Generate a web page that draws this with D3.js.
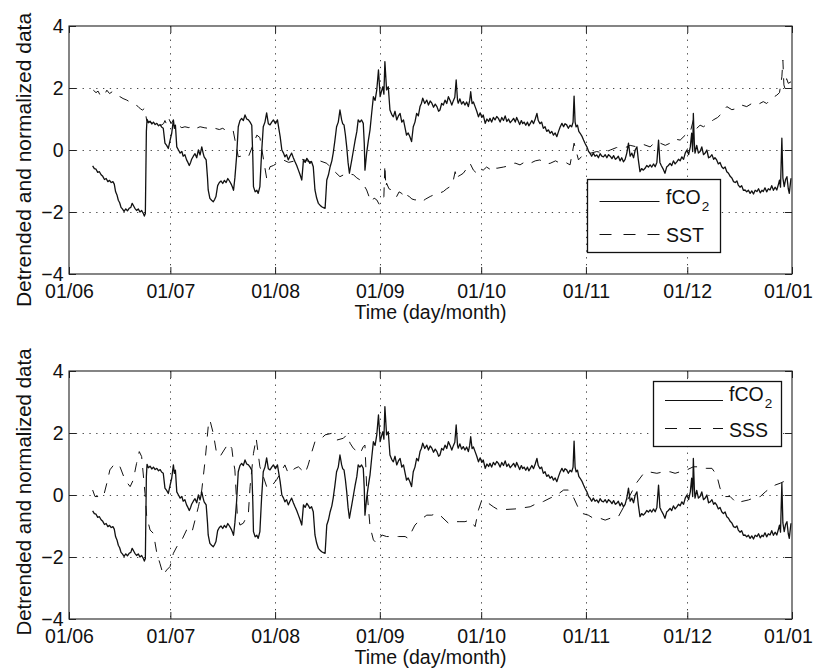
<!DOCTYPE html>
<html><head><meta charset="utf-8">
<script src="https://cdn.jsdelivr.net/npm/d3@7"></script>
<style>
body{margin:0;background:#fff}
svg{display:block}
text{font-family:"Liberation Sans",Arial,Helvetica,sans-serif;fill:#111}
</style></head><body>
<svg id="c" width="814" height="671"></svg>
<script>
// ---- data (day = days since 1 June) ----
const xTickLabels = ["01/06","01/07","01/08","01/09","01/10","01/11","01/12","01/01"];
const yTicks = [-4,-2,0,2,4];
const yLabel = "Detrended and normalized data";
const xLabel = "Time (day/month)";

const fco2 = [[7.0,-0.51],[7.5,-0.6],[8.0,-0.62],[8.5,-0.72],[9.0,-0.7],[9.5,-0.8],[10.0,-0.85],[10.5,-0.95],[11.0,-0.92],[11.5,-1.02],[12.0,-0.98],[12.5,-1.05],[13.0,-1.02],[13.4,-1.1],[13.8,-1.35],[14.2,-1.45],[14.6,-1.62],[15.0,-1.7],[15.4,-1.85],[15.8,-1.9],[16.3,-1.98],[16.8,-1.9],[17.3,-1.96],[17.8,-1.88],[18.3,-1.85],[18.7,-1.72],[19.1,-1.8],[19.5,-1.88],[20.0,-1.95],[20.5,-1.9],[21.0,-2.0],[21.5,-1.95],[22.0,-2.05],[22.3,-2.13],[22.6,-2.05],[22.9,0.6],[23.1,0.99],[23.5,0.88],[24.0,0.93],[24.5,0.84],[25.0,0.9],[25.5,0.82],[26.0,0.86],[26.5,0.78],[27.0,0.82],[27.4,0.74],[27.9,0.7],[28.4,0.22],[28.9,0.15],[29.4,0.05],[29.9,0.3],[30.4,0.54],[30.9,0.97],[31.2,0.7],[31.5,0.8],[31.9,0.1],[32.4,0.0],[32.9,-0.1],[33.4,-0.05],[33.8,-0.2],[34.3,-0.15],[34.8,-0.32],[35.2,-0.4],[35.6,-0.5],[36.0,-0.4],[36.3,-0.3],[36.8,-0.2],[37.3,-0.12],[37.8,-0.25],[38.3,0],[38.8,-0.16],[39.3,0.1],[39.7,-0.1],[40.0,-0.22],[40.6,-0.32],[41.0,-0.9],[41.2,-1.29],[41.7,-1.56],[42.2,-1.62],[42.7,-1.67],[43.1,-1.6],[43.5,-1.5],[44.0,-1.15],[44.5,-1.05],[45.0,-1.0],[45.5,-1.08],[46.0,-0.98],[46.5,-1.05],[47.0,-0.92],[47.5,-1.0],[48.0,-1.1],[48.4,-1.2],[48.7,-1.3],[49.1,-0.9],[49.6,-0.22],[50.1,0.75],[50.6,0.95],[51.1,1.02],[51.6,0.95],[52.1,1.13],[52.6,1.0],[53.1,0.97],[53.6,0.9],[54.1,0.8],[54.4,-0.2],[54.6,-1.18],[55.1,-1.35],[55.6,-1.3],[56.0,-1.4],[56.5,-1.18],[57.0,-0.1],[57.5,0.75],[58.0,0.9],[58.5,1.2],[59.0,0.85],[59.5,0.81],[60.0,0.9],[60.5,0.97],[61.1,0.85],[61.7,0.97],[62.1,0.7],[62.5,0.43],[63.0,0],[63.5,-0.1],[63.9,-0.22],[64.4,-0.15],[64.9,-0.32],[65.4,-0.2],[65.9,-0.1],[66.4,-0.25],[66.9,-0.38],[67.4,-0.5],[67.9,-0.65],[68.4,-0.8],[68.9,-0.97],[69.4,-0.32],[69.9,-0.4],[70.4,-0.27],[70.9,-0.35],[71.3,-0.43],[71.8,-0.38],[72.3,-0.54],[72.8,-1.29],[73.3,-1.55],[73.8,-1.72],[74.3,-1.78],[74.8,-1.83],[75.3,-1.86],[75.8,-1.88],[76.3,-0.97],[76.8,-0.8],[77.3,-0.54],[77.8,-0.35],[78.2,-0.1],[78.7,0.3],[79.2,0.75],[79.7,0.9],[80.2,1.29],[80.7,0.97],[81.0,0.85],[81.4,0.81],[81.8,0.5],[82.2,0.1],[82.6,-0.4],[83.0,-0.75],[83.4,-0.5],[83.7,-0.32],[84.2,0.0],[84.7,0.32],[85.2,0.6],[85.6,0.97],[86.1,0.9],[86.6,0.97],[87.1,0.86],[87.4,0.2],[87.6,-0.65],[88.1,-0.1],[88.6,0.3],[89.1,0.65],[89.6,1.2],[90.1,1.72],[90.6,1.6],[91.1,1.94],[91.6,2.58],[92.1,1.72],[92.5,1.9],[92.9,2.04],[93.2,1.8],[93.5,2.85],[94.0,1.94],[94.5,2.04],[95.0,1.29],[95.5,1.15],[96.0,1.07],[96.5,1.25],[97.0,0.97],[97.5,1.1],[98.0,1.18],[98.5,0.9],[99.0,0.97],[99.5,0.7],[99.9,0.48],[100.4,0.55],[100.9,0.43],[101.4,0.27],[101.9,0.75],[102.4,0.9],[102.9,1.18],[103.4,1.1],[103.9,1.4],[104.3,1.5],[104.7,1.67],[105.3,1.5],[105.9,1.61],[106.4,1.45],[106.9,1.58],[107.4,1.51],[107.9,1.38],[108.4,1.48],[108.9,1.4],[109.4,1.25],[109.8,1.29],[110.3,1.5],[110.8,1.45],[111.3,1.61],[111.8,1.5],[112.3,1.72],[112.8,1.6],[113.3,1.45],[113.8,1.6],[114.2,1.7],[114.6,2.26],[115.0,1.6],[115.2,1.51],[115.7,1.65],[116.2,1.48],[116.7,1.56],[117.2,1.45],[117.7,1.55],[118.2,1.4],[118.6,1.6],[118.9,1.88],[119.3,1.5],[119.7,1.55],[120.2,1.4],[120.7,1.25],[121.2,1.07],[121.7,1.2],[122.2,1.05],[122.6,1.13],[123.2,0.86],[123.7,1.0],[124.2,0.92],[124.6,1.02],[125.1,0.9],[125.6,1.05],[126.1,0.97],[126.6,1.08],[127.1,1.02],[127.6,0.9],[128.1,1.05],[128.6,0.95],[129.1,1.1],[129.6,0.92],[130.1,1.0],[130.6,0.88],[131.1,0.95],[131.6,1.02],[132.1,0.9],[132.5,1.05],[132.9,0.95],[133.4,0.82],[133.9,0.95],[134.3,0.85],[134.7,0.9],[135.2,0.8],[135.7,0.9],[136.1,0.78],[136.5,0.85],[137.0,0.95],[137.5,0.85],[138.0,1.0],[138.5,1.18],[138.9,0.95],[139.4,0.85],[139.9,0.9],[140.4,0.7],[140.9,0.75],[141.4,0.6],[141.9,0.65],[142.4,0.54],[142.9,0.6],[143.4,0.48],[143.9,0.55],[144.4,0.43],[144.9,0.6],[145.4,0.75],[145.9,0.86],[146.4,0.75],[146.8,0.85],[147.3,0.81],[147.8,0.7],[148.3,0.8],[148.8,0.75],[149.2,0.9],[149.5,1.74],[149.8,0.9],[150.1,0.75],[150.5,0.8],[150.9,0.6],[151.3,0.54],[151.8,0.45],[152.3,0.32],[152.8,0.2],[153.3,0.1],[153.8,-0.05],[154.2,-0.1],[154.7,-0.2],[155.2,-0.1],[155.7,-0.2],[156.2,-0.16],[156.7,-0.25],[157.2,-0.12],[157.7,-0.2],[158.2,-0.22],[158.7,-0.15],[159.2,-0.25],[159.7,-0.15],[160.2,-0.2],[160.7,-0.28],[161.2,-0.18],[161.7,-0.3],[162.1,-0.27],[162.6,-0.2],[163.1,-0.35],[163.6,-0.25],[164.1,-0.38],[164.6,-0.3],[165.1,-0.1],[165.6,0.22],[166.1,-0.2],[166.6,-0.1],[167.1,-0.25],[167.6,0.0],[168.1,0.1],[168.5,-0.3],[169.0,-0.7],[169.5,-0.6],[170.0,-0.65],[170.5,-0.59],[171.0,-0.5],[171.5,-0.55],[172.0,-0.48],[172.5,-0.55],[173.0,-0.45],[173.5,-0.54],[174.0,-0.4],[174.5,0.32],[174.9,-0.4],[175.3,-0.5],[175.8,-0.6],[176.4,-0.75],[176.9,-0.55],[177.4,-0.5],[177.9,-0.43],[178.4,-0.5],[178.9,-0.35],[179.4,-0.45],[179.9,-0.38],[180.4,-0.3],[180.9,-0.35],[181.4,-0.22],[181.9,-0.3],[182.4,-0.1],[182.9,0],[183.4,-0.15],[183.9,0.1],[184.3,0.54],[184.6,-0.05],[184.8,1.18],[185.1,0.2],[185.3,-0.1],[185.8,0.15],[186.3,-0.1],[186.8,-0.05],[187.3,0.1],[187.8,-0.15],[188.3,-0.1],[188.8,0.0],[189.3,-0.25],[189.8,-0.22],[190.3,-0.15],[190.8,-0.3],[191.2,-0.25],[191.7,-0.32],[192.2,-0.45],[192.7,-0.4],[193.2,-0.54],[193.7,-0.6],[194.2,-0.55],[194.7,-0.7],[195.2,-0.75],[195.7,-0.85],[196.2,-0.9],[196.7,-1.02],[197.2,-1.05],[197.7,-1.0],[198.1,-1.13],[198.6,-1.2],[199.1,-1.15],[199.6,-1.3],[200.1,-1.29],[200.6,-1.35],[201.1,-1.3],[201.6,-1.4],[202.1,-1.32],[202.6,-1.42],[203.1,-1.3],[203.6,-1.34],[204.1,-1.25],[204.6,-1.38],[205.1,-1.3],[205.5,-1.34],[206.0,-1.22],[206.5,-1.35],[207.0,-1.25],[207.5,-1.29],[208.0,-1.15],[208.5,-1.3],[209.0,-1.2],[209.5,-1.29],[210.0,-1.1],[210.3,-0.97],[210.6,-1.2],[211.0,0.38],[211.3,-0.9],[211.7,-1.18],[212.1,-0.95],[212.5,-0.86],[212.9,-1.25],[213.2,-1.4],[213.5,-1.1],[213.7,-0.91]];

const sst = [[7.2,1.93],[8.0,1.85],[8.6,1.9],[9.2,1.77],[10.0,1.85],[10.6,1.8],[11.2,1.93],[12.0,1.82],[12.8,1.88],[13.6,1.83],[14.4,1.75],[15.1,1.72],[16.0,1.66],[17.1,1.61],[18.0,1.55],[19.0,1.51],[19.8,1.45],[20.5,1.4],[21.2,1.32],[21.8,1.29],[22.4,1.35],[23.0,0.95],[24.0,0.9],[25.0,0.85],[26.0,0.82],[27.0,0.78],[28.0,0.85],[28.4,0.95],[29.0,0.8],[29.6,1.0],[30.2,0.85],[30.8,0.95],[31.4,0.8],[32.5,0.78],[33.4,0.72],[34.3,0.75],[35.5,0.72],[36.6,0.78],[37.7,0.7],[38.8,0.75],[40.0,0.72],[41.2,0.7],[42.3,0.74],[43.2,0.7],[44.5,0.66],[45.5,0.7],[46.2,0.65],[47.5,0.6],[48.6,0.62],[50.1,-0.22],[51.6,-0.18],[53.1,-0.22],[55.6,0.48],[56.5,0.4],[58.5,-0.91],[59.5,-0.54],[60.5,-0.5],[61.5,-0.43],[62.5,-0.38],[63.4,-0.32],[65.0,-0.4],[66.9,-0.35],[69.0,-0.3],[71.3,-0.38],[73.5,-0.32],[76.3,-0.43],[78.2,-0.65],[80.2,-0.86],[82.2,-0.75],[84.2,-0.8],[85.2,-0.9],[86.2,-0.97],[87.1,-1.1],[88.1,-1.29],[88.8,-1.5],[89.6,-1.67],[90.3,-1.55],[91.1,-1.61],[91.8,-1.75],[92.6,-1.72],[93.2,-1.5],[93.5,-0.48],[93.8,-1.2],[94.0,-1.07],[94.7,-1.25],[95.5,-1.29],[96.2,-1.45],[97.0,-1.5],[97.7,-1.35],[98.5,-1.4],[99.2,-1.55],[99.9,-1.45],[100.7,-1.5],[101.5,-1.58],[102.4,-1.61],[103.4,-1.6],[104.4,-1.67],[105.6,-1.58],[106.9,-1.5],[107.9,-1.45],[108.9,-1.4],[109.9,-1.38],[110.8,-1.34],[111.8,-1.25],[112.8,-1.18],[113.6,-1.05],[114.3,-0.7],[114.8,-0.95],[115.2,-0.85],[116.0,-0.8],[116.7,-0.75],[117.7,-0.6],[118.7,-0.43],[119.7,-0.65],[120.7,-0.75],[121.6,-0.6],[122.6,-0.65],[123.6,-0.55],[124.6,-0.62],[125.6,-0.5],[126.6,-0.59],[128.6,-0.55],[130.6,-0.5],[132.0,-0.42],[133.5,-0.48],[135.0,-0.38],[136.5,-0.43],[138.0,-0.35],[139.4,-0.32],[141.0,-0.45],[142.4,-0.43],[144.0,-0.35],[145.4,-0.43],[147.0,-0.4],[148.3,-0.48],[149.5,0.22],[150.8,-0.32],[151.8,-0.2],[152.8,-0.16],[154.5,-0.1],[156.2,-0.05],[158.2,-0.1],[160.2,0],[162.1,0.08],[164.1,0.05],[166.1,0.15],[168.1,0.1],[170.0,0.18],[172.0,0.1],[173.5,0.25],[175.0,0.22],[176.5,0.15],[177.9,0.22],[179.4,0.35],[180.9,0.32],[182.4,0.48],[183.8,0.54],[184.8,0.97],[185.8,0.7],[186.8,0.8],[187.8,0.75],[189.2,0.85],[190.7,0.97],[192.0,1.05],[193.2,1.18],[194.7,1.4],[196.2,1.3],[197.7,1.34],[199.1,1.45],[200.6,1.4],[202.1,1.5],[203.6,1.45],[205.5,1.56],[206.5,1.5],[207.5,1.61],[208.5,1.7],[209.5,1.77],[210.3,1.85],[211.0,2.36],[211.3,2.9],[211.6,2.1],[211.9,1.99],[212.4,2.3],[212.9,2.15],[213.7,2.2]];

const sss = [[7.0,0.16],[7.7,-0.05],[10.2,-0.05],[11.2,0.38],[12.1,0.81],[13.6,1.02],[15.1,0.91],[16.6,0.48],[18.1,0.27],[19.0,0.48],[20.0,1.02],[20.8,1.4],[21.5,1.24],[22.5,0.05],[23.0,-0.7],[24.0,-1.13],[25.0,-1.24],[26.0,-1.88],[26.9,-2.2],[27.9,-2.58],[28.9,-2.42],[29.9,-2.31],[30.9,-1.88],[31.9,-1.67],[33.4,-1.45],[34.8,-1.13],[36.3,-1.24],[37.3,-0.81],[38.3,-0.38],[39.3,0.16],[40.3,1.13],[41.2,2.2],[41.7,2.42],[42.7,1.99],[43.7,1.34],[44.7,1.24],[45.9,1.45],[47.2,1.67],[48.2,1.5],[48.6,1.13],[49.1,0.81],[49.8,-0.6],[50.6,-0.97],[51.6,-0.91],[53.1,-0.59],[53.6,0.27],[54.6,1.34],[55.4,1.83],[56.0,1.34],[56.5,0.91],[57.5,0.6],[58.5,0.27],[59.5,0.22],[61.5,0.5],[63.9,0.97],[64.9,0.7],[66.9,0.86],[67.9,0.91],[69.9,0.7],[70.8,0.97],[71.9,1.4],[72.8,1.72],[74.8,1.83],[75.8,1.94],[77.8,1.99],[79.2,1.77],[81.2,1.83],[82.2,1.94],[83.2,1.67],[84.2,1.5],[86.2,1.34],[87.1,1.56],[87.6,1.61],[88.1,0.27],[89.1,-1.02],[90.1,-1.45],[91.1,-1.56],[92.6,-1.29],[94.0,-1.34],[96.0,-1.34],[97.5,-1.34],[99.5,-1.34],[100.4,-1.4],[102.4,-0.97],[103.9,-0.81],[105.9,-0.65],[107.4,-0.65],[108.9,-0.59],[109.8,-0.65],[112.3,-0.91],[113.8,-0.86],[115.7,-0.86],[117.2,-0.86],[118.7,-0.81],[120.2,-1.02],[121.2,-0.48],[122.2,-0.16],[123.2,-0.21],[124.2,-0.27],[125.6,-0.38],[127.1,-0.48],[132.0,-0.45],[136.5,-0.38],[138.5,-0.27],[140.4,-0.21],[142.4,-0.1],[144.4,0],[146.4,0.16],[147.8,0.16],[148.8,0.05],[150.8,-0.43],[151.8,-0.59],[153.7,-0.65],[155.2,-0.75],[157.2,-0.75],[158.7,-0.81],[160.2,-0.75],[162.6,-0.7],[166.1,0.0],[167.9,0.38],[168.6,0.48],[170.1,0.7],[171.5,0.75],[174.0,0.7],[176.0,0.75],[177.9,0.75],[179.4,0.7],[180.9,0.75],[182.9,0.81],[184.8,0.91],[186.3,0.91],[187.8,0.86],[188.8,0.86],[190.3,0.86],[191.7,0.65],[192.7,0.22],[194.2,-0.05],[195.7,-0.05],[197.7,-0.27],[199.1,-0.21],[201.1,-0.16],[202.6,-0.1],[204.6,-0.05],[206.1,0.1],[207.5,0.22],[209.0,0.32],[210.5,0.38],[211.5,0.43],[212.9,0.38],[213.7,0.4]];

// ---- layout ----
const T0 = Date.UTC(2007,5,1);
const toDate = d => new Date(T0 + d*864e5);
const monthDates = xTickLabels.map((_,i)=> new Date(Date.UTC(2007,5+i,1)));
const X0=69, X1=792;
const x = d3.scaleUtc().domain([monthDates[0], monthDates[monthDates.length-1]]).range([X0,X1]);

const svg = d3.select("#c");
const FONT = 19.5;

const panels = [
  {top:26, bottom:274, other:sst, name:"SST", ylabFs:21, ylabY:160,
   leg:{x:587.5,y:179.5,w:133,h:73, lx1:599.5, lx2:659.5, y1:201.5, t1:203.5, y2:234.5, t2:241.5, tx:666}},
  {top:371, bottom:619, other:sss, name:"SSS", ylabFs:20.5, ylabY:492,
   leg:{x:653.5,y:381.5,w:128,h:65, lx1:665, lx2:723, y1:400.5, t1:401, y2:428.5, t2:436.5, tx:729}}
];

panels.forEach((p,pi)=>{
  const y = d3.scaleLinear().domain([-4,4]).range([p.bottom,p.top]);
  const g = svg.append("g");
  const clipId = "clip"+pi;
  svg.append("clipPath").attr("id",clipId).append("rect")
     .attr("x",X0).attr("y",p.top).attr("width",X1-X0).attr("height",p.bottom-p.top);

  // grid (dotted)
  const grid = g.append("g").attr("stroke","#444").attr("stroke-width",1).attr("stroke-dasharray","1.3,5.5");
  grid.selectAll("line.v").data(monthDates.slice(1,-1)).join("line")
    .attr("x1",d=>Math.round(x(d))+0.5).attr("x2",d=>Math.round(x(d))+0.5)
    .attr("y1",p.top).attr("y2",p.bottom);
  grid.selectAll("line.h").data(yTicks.slice(1,-1)).join("line")
    .attr("y1",d=>Math.round(y(d))+0.5).attr("y2",d=>Math.round(y(d))+0.5)
    .attr("x1",X0).attr("x2",X1);

  // series
  const line = d3.line().x(d=>x(toDate(d[0]))).y(d=>y(d[1]));
  const lg = g.append("g").attr("clip-path",`url(#${clipId})`).attr("fill","none");
  lg.append("path").datum(p.other).attr("d",line)
    .attr("stroke","#111").attr("stroke-width",1).attr("stroke-dasharray","10,9");
  lg.append("path").datum(fco2).attr("d",line)
    .attr("stroke","#111").attr("stroke-width",1.3).attr("stroke-linejoin","round");

  // axes with inward ticks
  const tick = 7;
  const axB = d3.axisBottom(x).tickValues(monthDates).tickSizeInner(-tick).tickSizeOuter(0)
      .tickFormat((d,i)=>xTickLabels[i]).tickPadding(10);
  const axT = d3.axisTop(x).tickValues(monthDates).tickSizeInner(-tick).tickSizeOuter(0).tickFormat("");
  const axL = d3.axisLeft(y).tickValues(yTicks).tickSizeInner(-tick).tickSizeOuter(0)
      .tickFormat(d=> d<0 ? "\u2212"+Math.abs(d) : String(d)).tickPadding(5.5);
  const axR = d3.axisRight(y).tickValues(yTicks).tickSizeInner(-tick).tickSizeOuter(0).tickFormat("");

  const styleAx = s => { s.select(".domain").remove(); s.selectAll("line").attr("stroke","#222");
     s.selectAll("text").attr("font-size",FONT).attr("fill","#111")
      .attr("font-family",'"Liberation Sans",Arial,Helvetica,sans-serif'); };
  const gB = g.append("g").attr("transform",`translate(0,${p.bottom})`).call(axB).call(styleAx);
  // last label kept inside the page, as in the reference
  gB.selectAll(".tick text").filter((d,i)=> i===monthDates.length-1).attr("dx",-4);
  g.append("g").attr("transform",`translate(0,${p.top})`).call(axT).call(styleAx);
  g.append("g").attr("transform",`translate(${X0},0)`).call(axL).call(styleAx);
  g.append("g").attr("transform",`translate(${X1},0)`).call(axR).call(styleAx);

  // box
  g.append("rect").attr("x",X0).attr("y",p.top).attr("width",X1-X0).attr("height",p.bottom-p.top)
    .attr("fill","none").attr("stroke","#222").attr("stroke-width",1.1);

  // labels
  g.append("text").attr("x",(X0+X1)/2).attr("y",p.bottom+45).attr("text-anchor","middle")
    .attr("font-size",FONT).text(xLabel);
  g.append("text").attr("transform",`translate(31,${p.ylabY}) rotate(-90)`).attr("text-anchor","middle")
    .attr("font-size",p.ylabFs).text(yLabel);

  // legend
  const L = p.leg;
  const lgd = g.append("g");
  lgd.append("rect").attr("x",L.x).attr("y",L.y).attr("width",L.w).attr("height",L.h)
    .attr("fill","#fff").attr("stroke","#111").attr("stroke-width",1.3);
  lgd.append("line").attr("x1",L.lx1).attr("x2",L.lx2).attr("y1",L.y1).attr("y2",L.y1)
    .attr("stroke","#111").attr("stroke-width",1.2);
  lgd.append("line").attr("x1",L.lx1).attr("x2",L.lx2).attr("y1",L.y2).attr("y2",L.y2)
    .attr("stroke","#111").attr("stroke-width",1.2).attr("stroke-dasharray","12,12");
  const t1 = lgd.append("text").attr("x",L.tx).attr("y",L.t1).attr("font-size",FONT);
  t1.append("tspan").text("fCO");
  t1.append("tspan").attr("font-size",13.5).attr("dy",7).attr("dx",1).text("2");
  lgd.append("text").attr("x",L.tx).attr("y",L.t2).attr("font-size",FONT).text(p.name);
});
</script>
</body></html>
